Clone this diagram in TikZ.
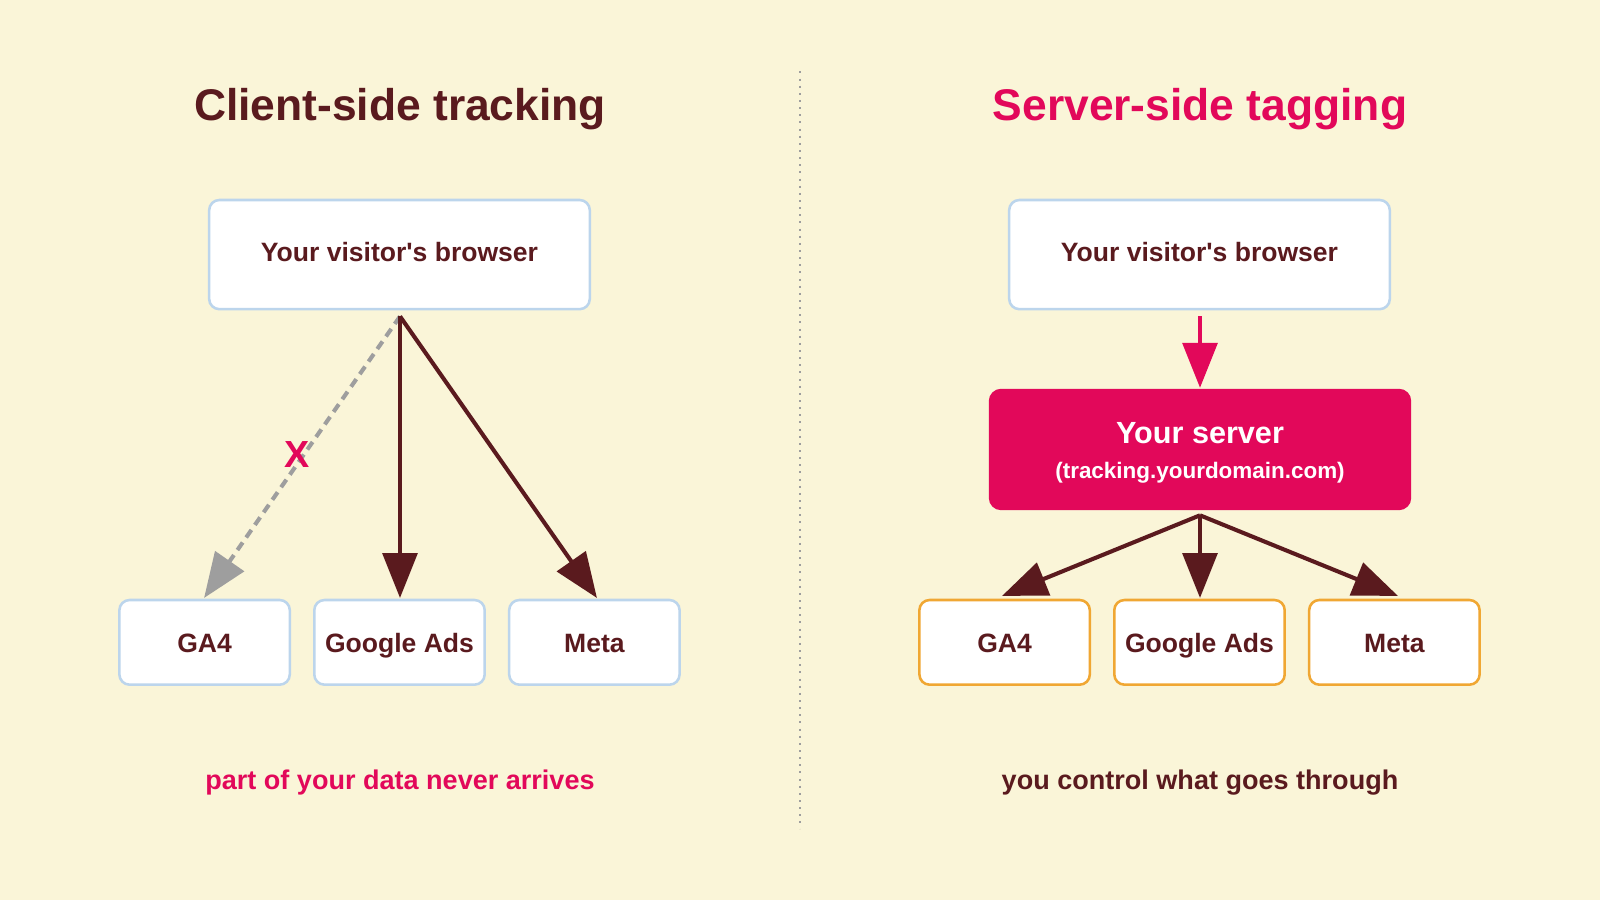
\documentclass[tikz,border=0pt]{standalone}
\usepackage{fontspec}
\setmainfont{Liberation Sans}
\usetikzlibrary{arrows.meta}
\definecolor{bg}{HTML}{FAF5D8}
\definecolor{maroon}{HTML}{5A1A1E}
\definecolor{crim}{HTML}{E2085A}
\definecolor{lblue}{HTML}{BCD5EC}
\definecolor{orng}{HTML}{F0A733}
\definecolor{gry}{HTML}{9E9E9E}
\begin{document}
\begin{tikzpicture}[x=1pt,y=-1pt,
  box/.style={draw=lblue,line width=2.5pt,fill=white,rounded corners=10pt,font=\bfseries\fontsize{26}{30}\selectfont,text=maroon,inner sep=0pt,text height=19pt,text depth=5pt},
  sbox/.style={box,minimum width=167pt,minimum height=83pt,text height=22pt,text depth=2pt},
  obox/.style={sbox,draw=orng},
  arr/.style={draw=maroon,line width=4pt,-{Triangle[length=44pt,width=34pt]}},
  title/.style={font=\bfseries\fontsize{43.5}{50}\selectfont}]
\fill[bg] (0,0) rectangle (1568,882);
\useasboundingbox (0,0) rectangle (1568,882);
\draw[gry,line width=1.2pt,dash pattern=on 2pt off 5pt] (784,70) -- (784,812);
\node[title,text=maroon] (t1) at (392,107) {Client-side tracking};
\node[title,text=crim] (t2) at (1176,107) {Server-side tagging};
% left
\node[box,minimum width=373pt,minimum height=107pt] (b1) at (391.5,249.5) {Your visitor\textquotesingle s browser};
\node[sbox] (g1) at (200.5,629.5) {GA4};
\node[sbox] (a1) at (391.5,629.5) {Google Ads};
\node[sbox] (m1) at (582.5,629.5) {Meta};
\coordinate (s1) at (392,310);
\draw[arr,draw=gry,dash pattern=on 9pt off 6pt] (s1) -- (200,586);
\draw[arr] (s1) -- (392,586);
\draw[arr] (s1) -- (585,586);
\node[font=\bfseries\fontsize{37}{40}\selectfont,text=crim] (x) at (291,445) {X};
\node[font=\bfseries\fontsize{26.5}{30}\selectfont,text=crim] (c1) at (392,767) {part of your data never arrives};
% right
\node[box,minimum width=373pt,minimum height=107pt] (b2) at (1175.5,249.5) {Your visitor\textquotesingle s browser};
\node[fill=crim,rounded corners=12pt,minimum width=414pt,minimum height=119pt,inner sep=0pt] (sv) at (1176,440.5) {};
\node[font=\bfseries\fontsize{30}{34}\selectfont,text=white] (sv1) at (1176,424) {Your server};
\node[font=\bfseries\fontsize{22}{26}\selectfont,text=white] (sv2) at (1176,463) {(tracking.yourdomain.com)};
\node[obox] (g2) at (984.5,629.5) {GA4};
\node[obox] (a2) at (1175.5,629.5) {Google Ads};
\node[obox] (m2) at (1366.5,629.5) {Meta};
\coordinate (s2) at (1176,310);
\draw[arr,draw=crim] (s2) -- (1176,380);
\coordinate (s3) at (1176,505);
\draw[arr] (s3) -- (982,584);
\draw[arr] (s3) -- (1176,586);
\draw[arr] (s3) -- (1370,584);
\node[font=\bfseries\fontsize{26.5}{30}\selectfont,text=maroon] (c2) at (1176,767) {you control what goes through};
\end{tikzpicture}
\end{document}
